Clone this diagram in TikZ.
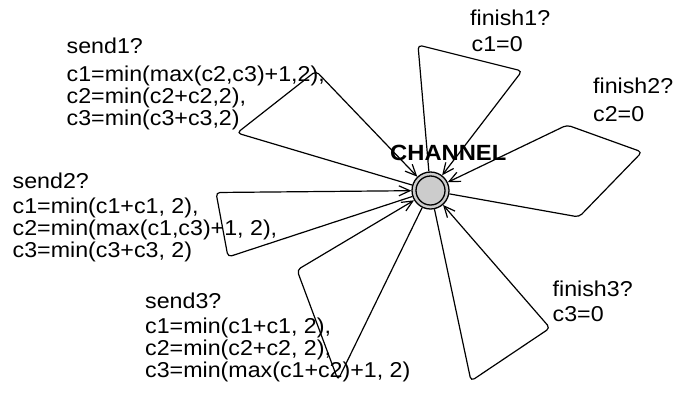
\documentclass[tikz,border=0pt]{standalone}
\usepackage{fontspec}
\setmainfont{Liberation Sans}[FakeStretch=1.08]
\usetikzlibrary{arrows.meta}

\tikzset{
  loc/.style={circle, draw, line width=1.3pt, fill=gray!40, minimum size=37pt, inner sep=0pt},
  loopline/.style={line width=1.2pt, rounded corners=4pt},
  intoloc/.style={-{Straight Barb[length=11pt,width=10pt]}},
  lbl/.style={anchor=base west, inner sep=0pt, font=\fontsize{21.5}{22}\selectfont},
  locname/.style={anchor=base west, inner sep=0pt, font=\fontsize{22}{22}\selectfont\bfseries},
}

\begin{document}
\begin{tikzpicture}[x=1pt, y=-1pt]
\useasboundingbox (0,0) rectangle (674,392);

% the single location
\node[loc] (ch) at (430.5,190.5) {};
\draw[line width=1.3pt] (ch.center) circle[radius=14.5pt];

% nails of the self-loops
\coordinate (s1a) at (237,133);
\coordinate (s1b) at (316,71);
\coordinate (s2a) at (228,257);
\coordinate (s2b) at (216,192.5);
\coordinate (s3a) at (338,380);
\coordinate (s3b) at (297,270);
\coordinate (f1a) at (418,45);
\coordinate (f1b) at (522,71);
\coordinate (f2a) at (579,217);
\coordinate (f2b) at (642,152);
\coordinate (f2c) at (567,125);
\coordinate (f3a) at (471,381);
\coordinate (f3b) at (550,328);

% self-loops
\draw[loopline, intoloc] (ch) -- (s1a) -- (s1b) -- (ch);
\draw[loopline, intoloc] (ch) -- (s2a) -- (s2b) -- (ch);
\draw[loopline, intoloc] (ch) -- (s3a) -- (s3b) -- (ch);
\draw[loopline, intoloc] (ch) -- (f1a) -- (f1b) -- (ch);
\draw[loopline, intoloc] (ch) -- (f2a) -- (f2b) -- (f2c) -- (ch);
\draw[loopline, intoloc] (ch) -- (f3a) -- (f3b) -- (ch);

% location name
\node[locname] (chname) at (390,160) {CHANNEL};

% send1 edge labels
\node[lbl] (s1sync) at (66.5,53) {send1?};
\node[lbl] (s1u1) at (66.5,81.5) {c1=min(max(c2,c3)+1,2),};
\node[lbl] (s1u2) at (66.5,103.5) {c2=min(c2+c2,2),};
\node[lbl] (s1u3) at (66.5,125.5) {c3=min(c3+c3,2)};

% send2 edge labels
\node[lbl] (s2sync) at (12.5,188.5) {send2?};
\node[lbl] (s2u1) at (12.5,213.5) {c1=min(c1+c1, 2),};
\node[lbl] (s2u2) at (12.5,235.5) {c2=min(max(c1,c3)+1, 2),};
\node[lbl] (s2u3) at (12.5,257) {c3=min(c3+c3, 2)};

% send3 edge labels
\node[lbl] (s3sync) at (145,308.5) {send3?};
\node[lbl] (s3u1) at (145,333) {c1=min(c1+c1, 2),};
\node[lbl] (s3u2) at (145,355) {c2=min(c2+c2, 2),};
\node[lbl] (s3u3) at (145,377) {c3=min(max(c1+c2)+1, 2)};

% finish edge labels
\node[lbl] (f1sync) at (470,25) {finish1?};
\node[lbl] (f1u) at (471.5,51.5) {c1=0};
\node[lbl] (f2sync) at (593,93.5) {finish2?};
\node[lbl] (f2u) at (593,121) {c2=0};
\node[lbl] (f3sync) at (552.5,296) {finish3?};
\node[lbl] (f3u) at (552.5,321.5) {c3=0};
\end{tikzpicture}
\end{document}
